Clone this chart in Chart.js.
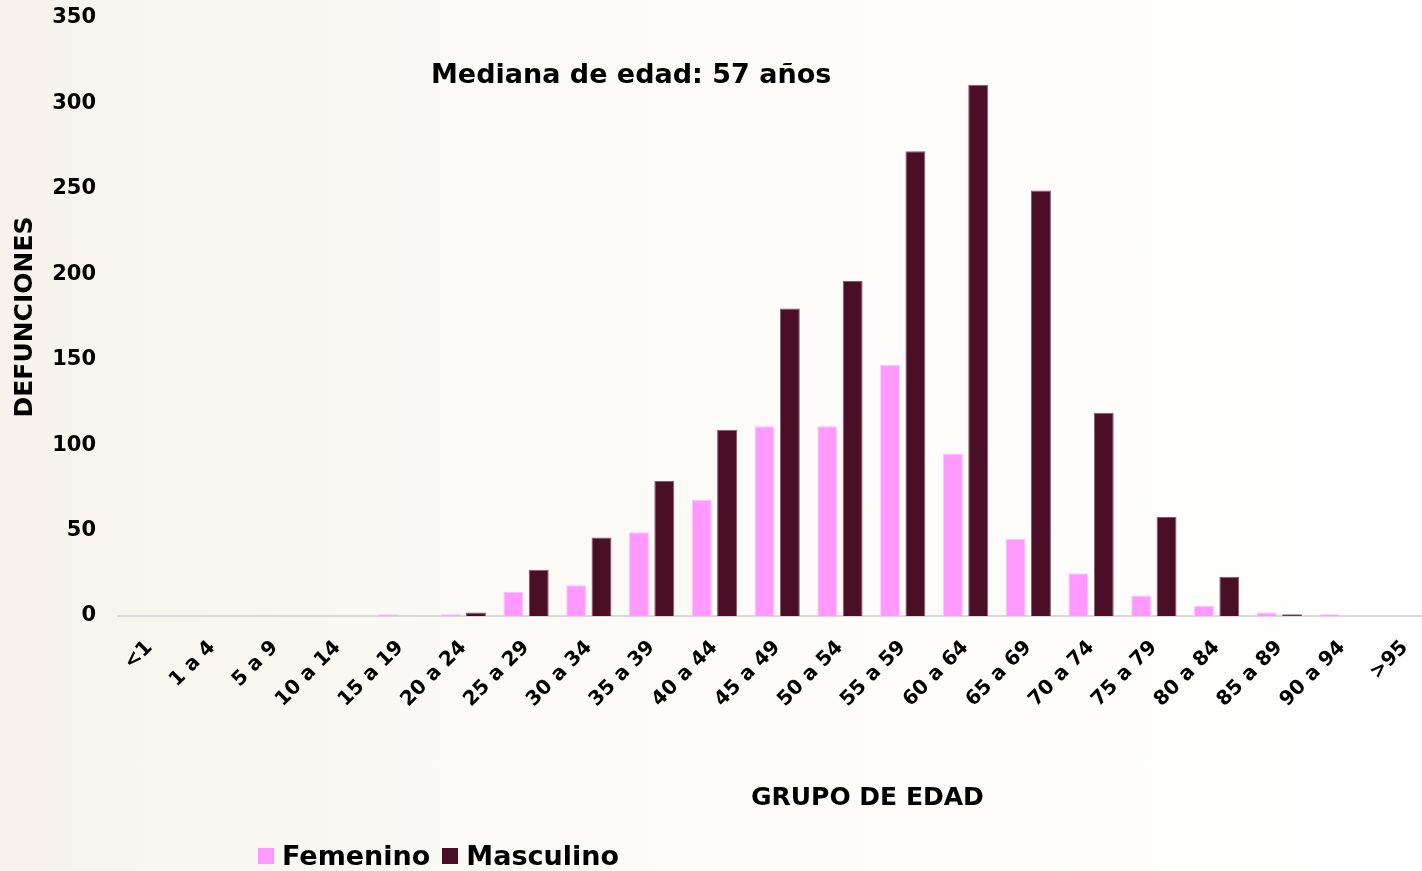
<!DOCTYPE html>
<html>
<head>
<meta charset="utf-8">
<script src="https://cdn.jsdelivr.net/npm/chart.js@4.4.1/dist/chart.umd.min.js"></script>
<style>
  html, body { margin: 0; padding: 0; width: 1422px; height: 871px; overflow: hidden; }
  body { background: linear-gradient(90deg, #f7f3ec 0%, #fbf9f5 30%, #fdfcfa 60%, #ffffff 100%); position: relative; font-family: "DejaVu Sans", sans-serif; }
  #wrap { position: absolute; left: 0; top: 0; width: 1442px; height: 871px; }
  #note { position: absolute; left: 431px; top: 58px; font: bold 27px "DejaVu Sans", sans-serif; color: #000; white-space: nowrap; }
  #xtitle { position: absolute; left: 751px; top: 782px; font: bold 25px "DejaVu Sans", sans-serif; color: #000; white-space: nowrap; }
  #legend { position: absolute; left: 258px; top: 840px; font: bold 27px "DejaVu Sans", sans-serif; color: #000; white-space: nowrap; display: flex; align-items: center; }
  #legend .item { display: flex; align-items: center; margin-right: 12px; }
  #legend .box { width: 16px; height: 16px; margin-right: 8px; }
</style>
</head>
<body>
<div id="wrap"><canvas id="c" width="1442" height="871"></canvas></div>
<div id="note">Mediana de edad: 57 años</div>
<div id="xtitle">GRUPO DE EDAD</div>
<div id="legend"></div>
<script>
const categories = ["<1","1 a 4","5 a 9","10 a 14","15 a 19","20 a 24","25 a 29","30 a 34","35 a 39","40 a 44","45 a 49","50 a 54","55 a 59","60 a 64","65 a 69","70 a 74","75 a 79","80 a 84","85 a 89","90 a 94",">95"];
const femenino  = [0, 0, 0, 0, 1, 1, 14, 18, 49, 68, 111, 111, 147, 95, 45, 25, 12, 6, 2, 1, 0];
const masculino = [0, 0, 0, 0, 0, 2, 27, 46, 79, 109, 180, 196, 272, 311, 249, 119, 58, 23, 1, 0, 0];
const yTicks = [0, 50, 100, 150, 200, 250, 300, 350];
const seriesNames = ["Femenino", "Masculino"];
const seriesColors = ["#ff99ff", "#4a0e27"];
const seriesBorders = ["#ffc4ff", "#8a5b6f"];

const ctx = document.getElementById('c').getContext('2d');
const chart = new Chart(ctx, {
  type: 'bar',
  data: {
    labels: categories,
    datasets: [
      { label: seriesNames[0], data: femenino, backgroundColor: seriesColors[0], borderColor: seriesBorders[0], borderWidth: 1, categoryPercentage: 0.807, barPercentage: 0.787 },
      { label: seriesNames[1], data: masculino, backgroundColor: seriesColors[1], borderColor: seriesBorders[1], borderWidth: 1, categoryPercentage: 0.807, barPercentage: 0.787 }
    ]
  },
  options: {
    responsive: false,
    animation: false,
    layout: { padding: { top: 0, left: 0, right: 2, bottom: 0 } },
    plugins: { legend: { display: false }, tooltip: { enabled: false }, title: { display: false } },
    scales: {
      x: {
        grid: { display: false, drawTicks: false },
        border: { display: true, color: '#d9d9d9', width: 2 },
        ticks: { color: '#000', font: { family: 'DejaVu Sans', weight: 'bold', size: 20 }, minRotation: 45, maxRotation: 45, padding: 20, autoSkip: false },
        afterFit: (s) => { s.height = 255; }
      },
      y: {
        min: 0, max: 350,
        afterBuildTicks: (s) => { s.ticks = yTicks.map(v => ({ value: v })); },
        grid: { display: false, drawTicks: false },
        border: { display: false },
        ticks: { color: '#000', font: { family: 'DejaVu Sans', weight: 'bold', size: 21 }, padding: 22 },
        title: { display: true, text: 'DEFUNCIONES', color: '#000', font: { family: 'DejaVu Sans', weight: 'bold', size: 25 }, padding: { top: 10, bottom: 0 } },
        afterFit: (s) => { s.width = 118; s.paddingTop = 18; s.paddingBottom = 0; }
      }
    }
  }
});

const leg = document.getElementById('legend');
chart.data.datasets.forEach(ds => {
  const it = document.createElement('div'); it.className = 'item';
  const b = document.createElement('div'); b.className = 'box'; b.style.background = ds.backgroundColor;
  const t = document.createElement('span'); t.textContent = ds.label;
  it.appendChild(b); it.appendChild(t); leg.appendChild(it);
});
</script>
</body>
</html>
